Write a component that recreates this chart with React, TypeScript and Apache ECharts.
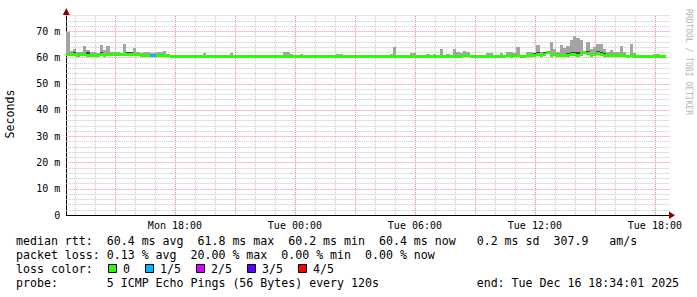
import React, { useEffect, useRef } from "react";
import * as echarts from "echarts";

// ---------- axes (x in hours since Mon 00:00) ----------
const startHour = 12 + 34 / 60; // Mon 12:34
const stepHours = 10 / 60; // 10 minute bins
const xAxisMax = 42.72;
const yAxisMax = 76.1;

const xTickHours = [18, 24, 30, 36, 42];
const xTickLabels = ["Mon 18:00", "Tue 00:00", "Tue 06:00", "Tue 12:00", "Tue 18:00"];
const yTickValues = [0, 10, 20, 30, 40, 50, 60, 70];
const yTickLabels = ["0", "10 m", "20 m", "30 m", "40 m", "50 m", "60 m", "70 m"];
const vGridMinor = [13, 14, 16, 17, 19, 20, 22, 23, 25, 26, 28, 29, 31, 32, 34, 35, 37, 38, 40, 41];
const vGridMajor = [15, 18, 21, 24, 27, 30, 33, 36, 39, 42];
const hGridMinor = [2, 4, 6, 8, 12, 14, 16, 18, 22, 24, 26, 28, 32, 34, 36, 38, 42, 44, 46, 48, 52, 54, 56, 58, 62, 64, 66, 68, 72, 74, 76];
const hGridMajor = [10, 20, 30, 40, 50, 60, 70];

// ---------- series (ms, one value per 10-minute bin) ----------
const medianRtt = [
  60.9, 61.0, 60.9, 60.8, 60.9, 61.0, 60.8, 60.8, 60.7, 60.8,
  60.9, 60.8, 60.9, 61.0, 61.0, 61.1, 61.0, 61.1, 61.0, 61.1,
  60.9, 60.9, 60.8, 60.8, 60.7, 60.5, 60.5, 60.8, 60.7, 60.7,
  60.5, 60.4, 60.4, 60.4, 60.4, 60.4, 60.4, 60.4, 60.4, 60.4,
  60.4, 60.4, 60.4, 60.4, 60.4, 60.4, 60.4, 60.4, 60.4, 60.4,
  60.4, 60.4, 60.3, 60.3, 60.3, 60.4, 60.4, 60.4, 60.3, 60.3,
  60.3, 60.4, 60.4, 60.4, 60.4, 60.4, 60.4, 60.4, 60.4, 60.3,
  60.3, 60.3, 60.4, 60.4, 60.4, 60.4, 60.4, 60.4, 60.4, 60.4,
  60.4, 60.4, 60.4, 60.4, 60.3, 60.3, 60.3, 60.4, 60.4, 60.4,
  60.4, 60.4, 60.4, 60.4, 60.4, 60.4, 60.4, 60.4, 60.4, 60.4,
  60.4, 60.4, 60.4, 60.4, 60.4, 60.4, 60.4, 60.4, 60.4, 60.4,
  60.4, 60.4, 60.4, 60.4, 60.4, 60.4, 60.4, 60.4, 60.4, 60.5,
  60.5, 60.4, 60.4, 60.4, 60.4, 60.4, 60.4, 60.4, 60.4, 60.4,
  60.4, 60.4, 60.5, 60.4, 60.5, 60.6, 60.4, 60.4, 60.5, 60.5,
  60.6, 61.0, 60.6, 61.2, 61.9, 60.8, 61.1, 60.6, 60.5, 60.6,
  60.8, 61.0, 60.9, 60.8, 61.2, 62.0, 61.6, 60.8, 61.0, 61.6,
  61.2, 60.7, 60.5, 60.6, 60.5, 60.5, 60.6, 60.5, 60.4, 60.5,
  60.4, 60.4, 60.4, 60.4, 60.4, 60.4, 60.4, 60.4, 60.4, 60.4,
];

const smokeMax = [
  69.7, 62.5, 63.0, 62.0, 62.0, 64.3, 62.8, 62.2, 62.0, 61.8,
  64.7, 62.8, 64.3, 62.0, 62.0, 62.2, 61.8, 65.0, 62.0, 62.0,
  63.4, 61.9, 61.8, 62.0, 62.0, 61.6, 61.5, 62.0, 62.0, 62.4,
  61.3, 60.7, 60.6, 60.6, 60.6, 60.6, 60.6, 60.6, 60.6, 60.6,
  60.6, 61.5, 60.6, 60.6, 60.6, 60.6, 60.6, 60.6, 60.6, 61.7,
  60.6, 60.6, 61.0, 60.6, 60.6, 60.6, 60.9, 60.6, 60.9, 60.6,
  60.6, 60.9, 60.6, 60.6, 60.6, 62.1, 62.1, 61.2, 60.6, 60.6,
  61.4, 60.6, 60.9, 60.6, 60.6, 60.9, 60.6, 60.6, 60.6, 60.6,
  60.6, 61.4, 61.4, 60.6, 60.6, 60.6, 60.6, 60.9, 60.9, 60.6,
  60.6, 60.6, 60.6, 60.6, 60.6, 61.0, 61.0, 61.3, 64.0, 60.6,
  60.6, 60.6, 60.6, 61.6, 61.6, 60.6, 60.6, 60.6, 61.2, 60.6,
  61.2, 60.6, 63.1, 60.6, 61.2, 60.6, 63.1, 62.0, 61.8, 62.4,
  62.2, 60.6, 61.0, 60.6, 60.6, 60.6, 61.5, 61.5, 60.6, 60.6,
  61.5, 60.6, 61.9, 61.9, 61.8, 64.0, 61.0, 60.6, 62.0, 62.0,
  61.5, 64.7, 62.2, 62.0, 62.0, 65.9, 63.1, 62.0, 64.7, 63.4,
  64.3, 66.6, 68.2, 67.5, 66.6, 62.4, 65.9, 63.1, 64.0, 65.0,
  65.0, 63.1, 62.0, 62.8, 62.0, 62.0, 64.3, 62.0, 61.0, 65.0,
  61.5, 60.6, 60.6, 60.6, 60.6, 60.6, 61.2, 61.2, 61.0, 60.8,
];

// darker inner smoke (null = none visible)
const smokeInner: (number | null)[] = [
  null, null, 62.1, null, null, null, 62.0, null, null, null,
  61.9, null, null, null, null, null, null, null, 61.9, 61.9,
  null, null, null, null, null, null, null, null, null, null,
  null, null, null, null, null, null, null, null, null, null,
  null, null, null, null, null, null, null, null, null, null,
  null, null, null, null, null, null, null, null, null, null,
  null, null, null, null, null, null, null, null, null, null,
  null, null, null, null, null, null, null, null, null, null,
  null, null, null, null, null, null, null, null, null, null,
  null, null, null, null, null, null, null, null, null, null,
  null, null, null, null, null, null, null, null, null, null,
  null, null, null, null, null, null, null, null, null, null,
  null, null, null, null, null, null, null, null, null, null,
  null, null, null, null, null, null, null, null, null, null,
  61.6, 61.9, null, 62.0, null, null, 61.8, null, null, null,
  61.7, 62.0, 62.2, 61.9, 61.8, null, 62.3, null, 61.8, 62.3,
  62.0, 61.5, null, null, null, null, null, null, null, null,
  null, null, null, null, null, null, null, null, null, null,
];

// lost pings per bin (out of 5)
const lossCount = [
  0, 0, 0, 0, 0, 0, 0, 0, 0, 0,
  0, 0, 0, 0, 0, 0, 0, 0, 0, 0,
  0, 0, 0, 0, 0, 1, 1, 0, 0, 0,
  0, 0, 0, 0, 0, 0, 0, 0, 0, 0,
  0, 0, 0, 0, 0, 0, 0, 0, 0, 0,
  0, 0, 0, 0, 0, 0, 0, 0, 0, 0,
  0, 0, 0, 0, 0, 0, 0, 0, 0, 0,
  0, 0, 0, 0, 0, 0, 0, 0, 0, 0,
  0, 0, 0, 0, 0, 0, 0, 0, 0, 0,
  0, 0, 0, 0, 0, 0, 0, 0, 0, 0,
  0, 0, 0, 0, 0, 0, 0, 0, 0, 0,
  0, 0, 0, 0, 0, 0, 0, 0, 0, 0,
  0, 0, 0, 0, 0, 0, 0, 0, 0, 0,
  0, 0, 0, 0, 0, 0, 0, 0, 0, 0,
  0, 0, 0, 0, 0, 0, 0, 0, 0, 0,
  0, 0, 0, 0, 0, 0, 0, 0, 0, 0,
  0, 0, 0, 0, 0, 0, 0, 0, 0, 0,
  0, 0, 0, 0, 0, 0, 0, 0, 0, 0,
];

const lossColors = ["#26ff00", "#00b8ff", "#dd00ff", "#5e00ff", "#ff0000"];
const lossLabels = ["0", "1/5", "2/5", "3/5", "4/5"];

// ---------- legend text ----------
const rttItems = ["median rtt:", "60.4 ms avg", "61.8 ms max", "60.2 ms min", "60.4 ms now", "0.2 ms sd", "307.9", "am/s"];
const lossItems = ["packet loss:", "0.13 % avg", "20.00 % max", "0.00 % min", "0.00 % now"];
const probeText = "5 ICMP Echo Pings (56 Bytes) every 120s";
const endText = "end: Tue Dec 16 18:34:01 2025";

// layout (character columns, pixels)
const rttCols = [0, 13, 26, 39, 52, 66, 77, 85];
const lossCols = [0, 13, 25, 38, 50];
const lossBoxX = [108, 145, 196, 247, 298];
const MONO = '"DejaVu Sans Mono", monospace';
const CHAR = 6.98;
const LEFT = 16;

export default function App() {
  const ref = useRef<HTMLDivElement>(null);

  useEffect(() => {
    if (!ref.current) return;
    const chart = echarts.init(ref.current, undefined, { renderer: "svg" });

    const gridSeries = (values: number[], vertical: boolean, color: string) => ({
      type: "custom",
      silent: true,
      z: 1,
      encode: vertical ? { x: 0 } : { y: 0 },
      data: values.map((v) => [v]),
      renderItem: (_p: any, api: any) => {
        const v = api.value(0);
        let x1, y1, x2, y2;
        if (vertical) {
          const a = api.coord([v, 0]);
          const b = api.coord([v, yAxisMax]);
          x1 = x2 = Math.round(a[0]) + 0.5;
          y1 = a[1];
          y2 = b[1];
        } else {
          const a = api.coord([startHour, v]);
          const b = api.coord([xAxisMax, v]);
          y1 = y2 = Math.round(a[1]) + 0.5;
          x1 = a[0];
          x2 = b[0];
        }
        return {
          type: "line",
          shape: { x1, y1, x2, y2 },
          style: { stroke: color, lineWidth: 1, lineDash: [1, 1] },
        };
      },
    });

    const binRect = (i: number, lo: number, hi: number, api: any) => {
      const t = startHour + i * stepHours;
      const a = api.coord([t, hi]);
      const b = api.coord([t + stepHours, lo]);
      const x0 = Math.round(a[0]);
      const x1 = Math.round(b[0]);
      const y0 = Math.round(a[1]);
      const y1 = Math.round(b[1]);
      return { x: x0, y: y0, width: x1 - x0, height: y1 - y0 };
    };

    const textEls: any[] = [];
    const addText = (text: string, x: number, y: number, extra: any = {}) =>
      textEls.push({
        type: "text",
        x,
        y,
        silent: true,
        style: {
          text,
          fill: "#000",
          font: `11.6px ${MONO}`,
          align: "left",
          verticalAlign: "middle",
          textAlign: "left",
          textVerticalAlign: "middle",
          ...extra,
        },
      });

    rttItems.forEach((s, k) => addText(s, LEFT + rttCols[k] * CHAR, 241));
    lossItems.forEach((s, k) => addText(s, LEFT + lossCols[k] * CHAR, 255));
    addText("loss color:", LEFT, 269);
    lossLabels.forEach((s, k) => {
      textEls.push({
        type: "rect",
        silent: true,
        shape: { x: lossBoxX[k] + 0.5, y: 264.5, width: 8, height: 8 },
        style: { fill: lossColors[k], stroke: "#000", lineWidth: 1 },
      });
      addText(s, lossBoxX[k] + 15, 269);
    });
    addText("probe:", LEFT, 283);
    addText(probeText, LEFT + 13 * CHAR, 283);
    addText(endText, LEFT + 66 * CHAR, 283);

    chart.setOption({
      animation: false,
      backgroundColor: "#ffffff",
      textStyle: { fontFamily: MONO },
      grid: { left: 66.3, top: 15, width: 603, height: 200, containLabel: false },
      xAxis: {
        type: "value",
        min: startHour,
        max: xAxisMax,
        splitLine: { show: false },
        axisTick: { show: false },
        axisLine: { show: true, lineStyle: { color: "#000", width: 1 } },
        axisLabel: {
          customValues: xTickHours,
          formatter: (v: number) => {
            const k = xTickHours.findIndex((h) => Math.abs(h - v) < 1e-6);
            return k >= 0 ? xTickLabels[k] : "";
          },
          color: "#000",
          fontFamily: MONO,
          fontSize: 10,
          margin: 5,
          showMinLabel: true,
          showMaxLabel: true,
        },
      },
      yAxis: {
        type: "value",
        min: 0,
        max: yAxisMax,
        interval: 10,
        splitLine: { show: false },
        axisTick: { show: false },
        axisLine: { show: true, lineStyle: { color: "#000", width: 1 } },
        axisLabel: {
          customValues: yTickValues,
          formatter: (v: number) => {
            const k = yTickValues.findIndex((h) => Math.abs(h - v) < 1e-6);
            return k >= 0 ? yTickLabels[k] : "";
          },
          color: "#000",
          fontFamily: MONO,
          fontSize: 10,
          margin: 6,
        },
      },
      graphic: [
        ...textEls,
        {
          type: "text",
          x: 10,
          y: 114,
          rotation: Math.PI / 2,
          silent: true,
          style: {
            text: "Seconds",
            fill: "#000",
            font: `11.6px ${MONO}`,
            align: "center",
            verticalAlign: "middle",
            textAlign: "center",
            textVerticalAlign: "middle",
          },
        },
        {
          type: "text",
          x: 688,
          y: 62,
          rotation: -Math.PI / 2,
          silent: true,
          style: {
            text: "RRDTOOL / TOBI OETIKER",
            fill: "#b4b4b4",
            font: `8px ${MONO}`,
            align: "center",
            verticalAlign: "middle",
            textAlign: "center",
            textVerticalAlign: "middle",
          },
        },
        {
          type: "polygon",
          silent: true,
          z: 100,
          shape: { points: [[669, 211.5], [669, 219], [675, 215.2]] },
          style: { fill: "#8b0000" },
        },
        {
          type: "polygon",
          silent: true,
          z: 100,
          shape: { points: [[62.8, 15], [69.8, 15], [66.3, 8]] },
          style: { fill: "#8b0000" },
        },
      ],
      series: [
        gridSeries(vGridMinor, true, "#c8c8c8"),
        gridSeries(hGridMinor, false, "#c8c8c8"),
        gridSeries(vGridMajor, true, "#ee9090"),
        gridSeries(hGridMajor, false, "#ee9090"),
        {
          type: "custom",
          name: "smoke",
          silent: true,
          z: 3,
          encode: { x: 0, y: 1 },
          data: smokeMax.map((v, i) => [startHour + i * stepHours, v, medianRtt[i], i]),
          renderItem: (_p: any, api: any) => {
            const i = api.value(3);
            return {
              type: "rect",
              shape: binRect(i, medianRtt[i], smokeMax[i], api),
              style: { fill: "#a4a4a4" },
            };
          },
        },
        {
          type: "custom",
          name: "smokeInner",
          silent: true,
          z: 4,
          encode: { x: 0, y: 1 },
          data: smokeInner.map((v, i) => [startHour + i * stepHours, v == null ? medianRtt[i] : v, i]),
          renderItem: (_p: any, api: any) => {
            const i = api.value(2);
            const v = smokeInner[i];
            if (v == null) return { type: "group", children: [] };
            return {
              type: "rect",
              shape: binRect(i, medianRtt[i], v, api),
              style: { fill: "#444444" },
            };
          },
        },
        {
          type: "custom",
          name: "median",
          silent: true,
          z: 5,
          encode: { x: 0, y: 1 },
          data: medianRtt.map((v, i) => [startHour + i * stepHours, v, i]),
          renderItem: (_p: any, api: any) => {
            const i = api.value(2);
            const t = startHour + i * stepHours;
            const a = api.coord([t, medianRtt[i]]);
            const b = api.coord([t + stepHours, medianRtt[i]]);
            const x0 = Math.round(a[0]);
            const x1 = Math.round(b[0]);
            const yc = Math.round(a[1] - 1.5);
            return {
              type: "rect",
              shape: { x: x0, y: yc, width: x1 - x0, height: 3 },
              style: { fill: lossColors[lossCount[i]] },
            };
          },
        },
      ],
    });

    return () => chart.dispose();
  }, []);

  return (
    <div
      ref={ref}
      style={{ position: "fixed", left: 0, top: 0, width: 697, height: 297, background: "#fff" }}
    />
  );
}
